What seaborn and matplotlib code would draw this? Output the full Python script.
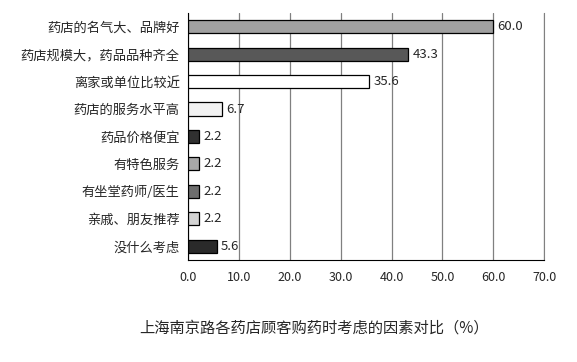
import matplotlib
matplotlib.use('Agg')
import matplotlib.pyplot as plt
import seaborn as sns
import pandas as pd
import numpy as np

factors = ['药店的名气大、品牌好', '药店规模大，药品品种齐全', '离家或单位比较近', '药店的服务水平高',
           '药品价格便宜', '有特色服务', '有坐堂药师/医生', '亲戚、朋友推荐', '没什么考虑']
values = [60.0, 43.3, 35.6, 6.7, 2.2, 2.2, 2.2, 2.2, 5.6]
colors = ['#a0a0a0', '#585858', '#ffffff', '#f2f2f2', '#303030', '#a8a8a8', '#6e6e6e', '#d4d4d4', '#2a2a2a']
xticks = [0, 10, 20, 30, 40, 50, 60, 70]

sns.set_style('white')
plt.rcParams['font.family'] = ['Noto Sans CJK SC', 'DejaVu Sans']

df = pd.DataFrame({'factor': factors, 'value': values})

fig = plt.figure(figsize=(5.77, 3.62), dpi=100)
ax = fig.add_axes([0.326, 0.282, 0.617, 0.682])

sns.barplot(data=df, y='factor', x='value', hue='factor', palette=colors,
            orient='h', width=0.48, edgecolor='black', linewidth=0.9,
            legend=False, ax=ax, zorder=3)

ax.set_xlim(0, 70)
ax.set_ylim(len(factors) - 0.5, -0.5)
ax.set_xticks(xticks)
ax.set_xticklabels([f'{v:.1f}' for v in xticks], fontsize=9)
ax.tick_params(axis='x', length=0, pad=8)
ax.tick_params(axis='y', length=0, pad=6, labelsize=9.5)
ax.set_yticks(np.arange(-0.5, len(factors), 1), minor=True)
ax.tick_params(axis='y', which='minor', length=4, direction='in', color='black')
ax.grid(axis='x', color='#808080', linewidth=0.9, zorder=0)
ax.set_xlabel('')
ax.set_ylabel('')

ax.spines['top'].set_visible(False)
ax.spines['right'].set_color('#808080')
ax.spines['left'].set_color('black')
ax.spines['bottom'].set_color('black')

for i, v in enumerate(values):
    ax.text(v + 0.8, i, f'{v:.1f}', va='center', ha='left', fontsize=9.5, zorder=4)

fig.text(0.544, 0.094, '上海南京路各药店顾客购药时考虑的因素对比（%）', ha='center', va='center', fontsize=11)

fig.savefig('out.png', dpi=100)
